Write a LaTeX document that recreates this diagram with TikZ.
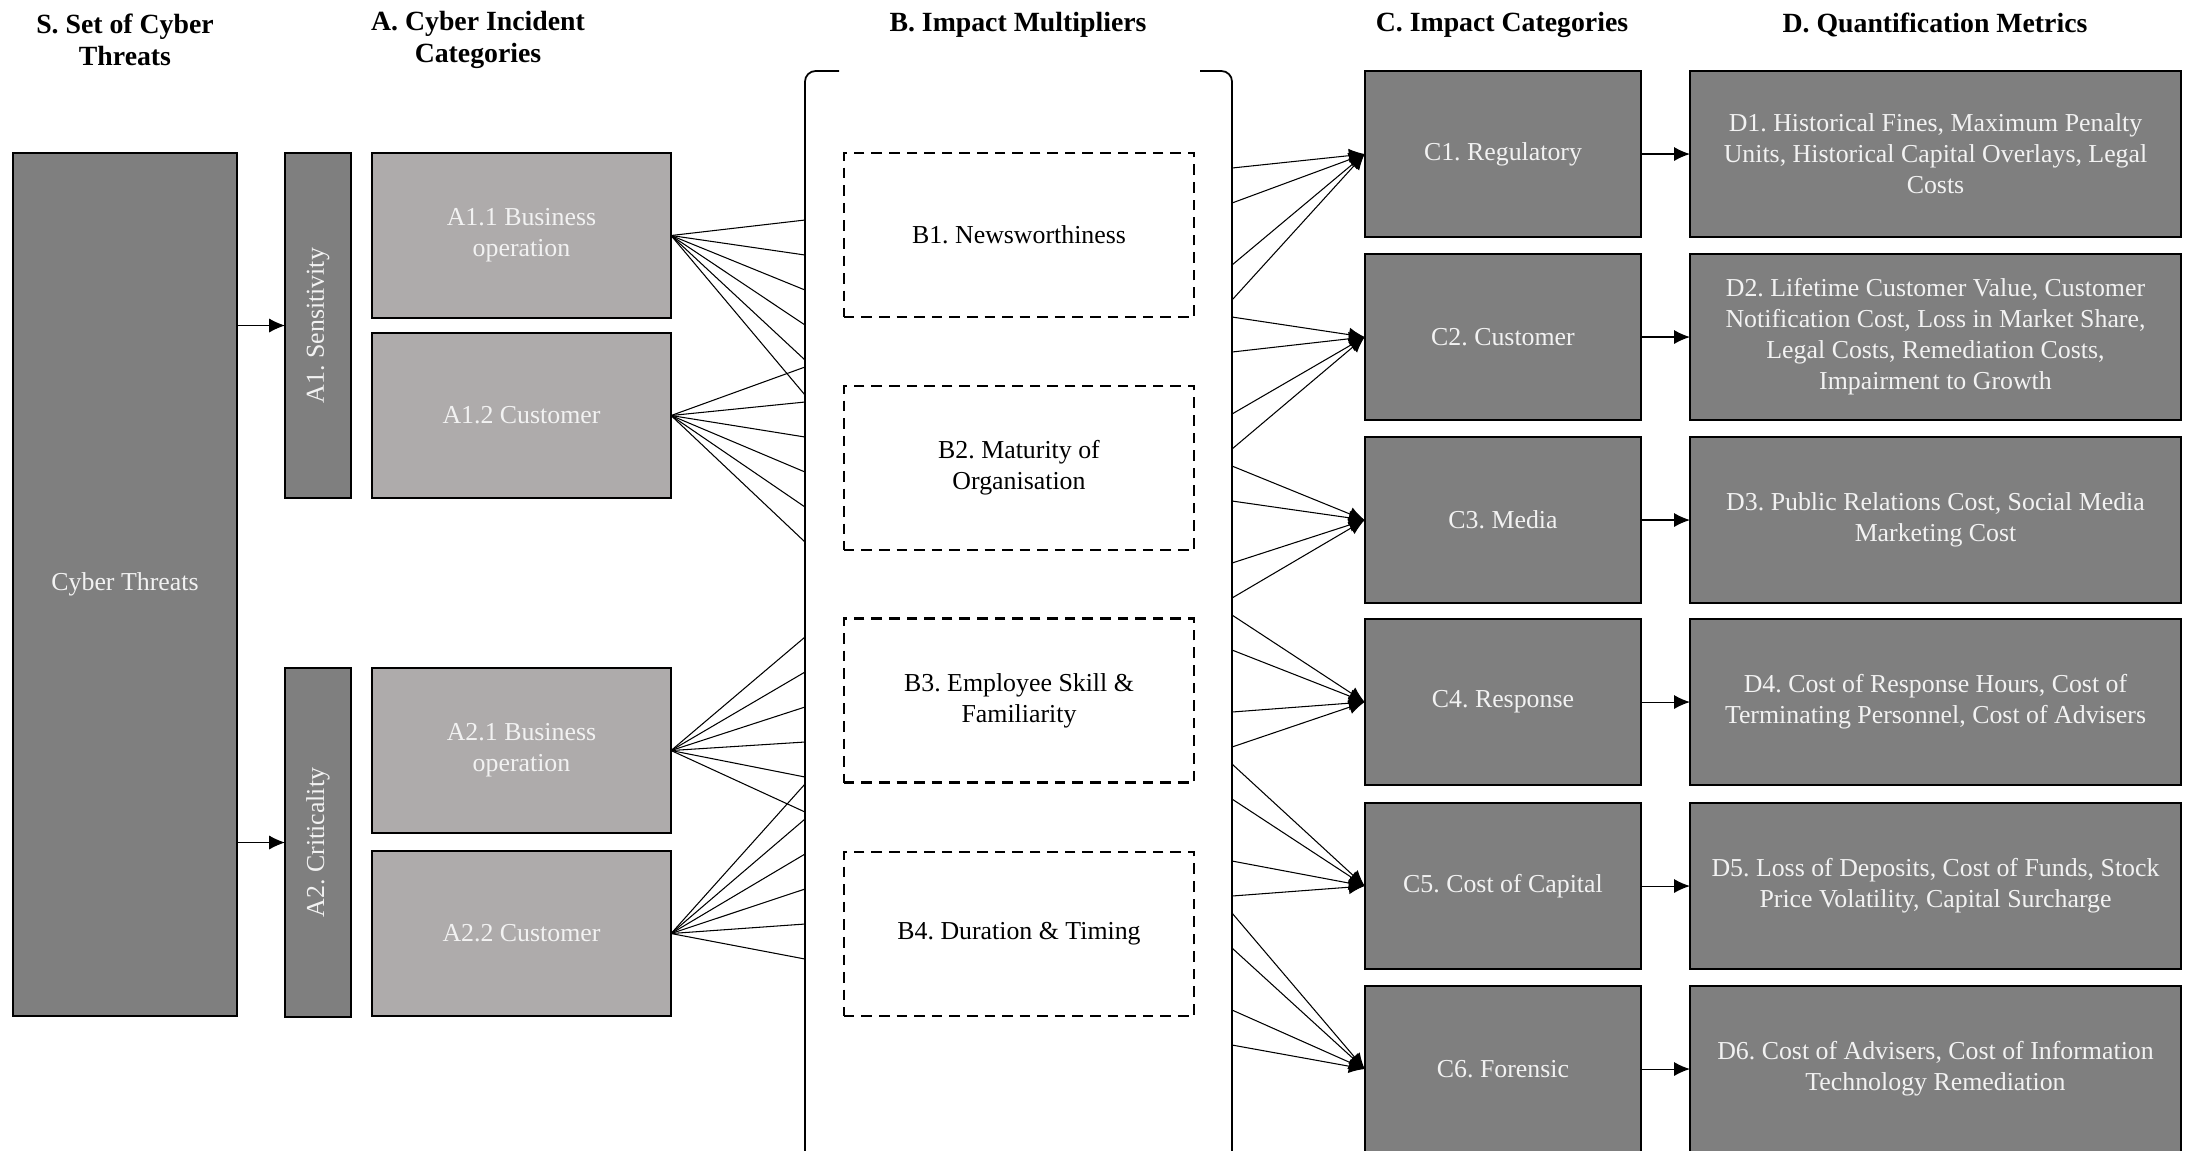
\documentclass[tikz,border=0pt]{standalone}
\usepackage{fontspec}
\setmainfont{Liberation Serif}
\usepackage{xcolor}
\usepackage{graphicx}
\usepackage{tikz}
\usetikzlibrary{arrows.meta}
\frenchspacing

\definecolor{threatgrey}{HTML}{7F7F7F}
\definecolor{incidentgrey}{HTML}{AEABAB}
\definecolor{boxtext}{HTML}{F2F2F2}

\begin{document}
\begin{tikzpicture}[x=0.01cm, y=-0.01cm,
    every node/.style={font=\fontsize{7.35}{8.8}\selectfont, inner sep=0pt, outer sep=0pt, align=center},
    colhead/.style={font=\fontsize{7.9}{9.1}\selectfont\bfseries},
    darkbox/.style={draw=black, line width=0.6pt, fill=threatgrey, text=boxtext},
    incidentbox/.style={draw=black, line width=0.6pt, fill=incidentgrey, text=boxtext, minimum width=2.99cm, minimum height=1.65cm},
    multbox/.style={draw=black, line width=0.7pt, dash pattern=on 3pt off 2pt, minimum width=3.5cm, minimum height=1.64cm},
    impactbox/.style={darkbox, minimum width=2.765cm, minimum height=1.66cm},
    metricbox/.style={darkbox, minimum width=4.91cm, minimum height=1.66cm},
    fan/.style={line width=0.3pt},
    tip/.style={-{Latex[length=4.5pt,width=4pt]}, line width=0.3pt}]
            \useasboundingbox (0,0) rectangle (2188,1150);
            \clip (0,0) rectangle (2188,1150);

            % Column headings
            \node[colhead] (hS) at (125,40) {S. Set of Cyber\\Threats};
            \node[colhead] (hA) at (478,40) {A. Cyber Incident\\Categories};
            \node[colhead] (hB) at (1018,25) {B. Impact Multipliers};
            \node[colhead] (hC) at (1502,25) {C. Impact Categories};
            \node[colhead] (hD) at (1935,25) {D. Quantification Metrics};

            % S - Set of cyber threats
            \node[darkbox, minimum width=2.245cm, minimum height=8.63cm] (S) at (125,584.5) {Cyber Threats};

            % A - Cyber incident categories
            \node[darkbox, minimum width=0.66cm, minimum height=3.45cm] (A1) at (318,325.5) {\rotatebox{90}{A1. Sensitivity}};
            \node[darkbox, minimum width=0.66cm, minimum height=3.49cm] (A2) at (318,842.5) {\rotatebox{90}{A2. Criticality}};
            \node[incidentbox] (A11) at (521.5,235.5) {A1.1 Business\\operation};
            \node[incidentbox] (A12) at (521.5,415.5) {A1.2 Customer};
            \node[incidentbox] (A21) at (521.5,750.5) {A2.1 Business\\operation};
            \node[incidentbox] (A22) at (521.5,933.5) {A2.2 Customer};

            % B - Impact multipliers (open frame)
            \draw[line width=0.5pt, rounded corners=3pt] (839,71) -- (805,71) -- (805,1200);
            \draw[line width=0.5pt, rounded corners=3pt] (1200,71) -- (1232,71) -- (1232,1200);
            \node[multbox] (B1) at (1019,235) {B1. Newsworthiness};
            \node[multbox] (B2) at (1019,468) {B2. Maturity of\\Organisation};
            \node[multbox] (B3) at (1019,700.5) {B3. Employee Skill \&\\Familiarity};
            \node[multbox] (B4) at (1019,934) {B4. Duration \& Timing};

            % C - Impact categories
            \node[impactbox] (C1) at (1503,154) {C1. Regulatory};
            \node[impactbox] (C2) at (1503,337) {C2. Customer};
            \node[impactbox] (C3) at (1503,520) {C3. Media};
            \node[impactbox] (C4) at (1503,702) {C4. Response};
            \node[impactbox] (C5) at (1503,886) {C5. Cost of Capital};
            \node[impactbox] (C6) at (1503,1069) {C6. Forensic};

            % D - Quantification metrics
            \node[metricbox] (D1) at (1935.5,154) {D1. Historical Fines, Maximum Penalty\\Units, Historical Capital Overlays, Legal\\Costs};
            \node[metricbox] (D2) at (1935.5,337) {D2. Lifetime Customer Value, Customer\\Notification Cost, Loss in Market Share,\\Legal Costs, Remediation Costs,\\Impairment to Growth};
            \node[metricbox] (D3) at (1935.5,520) {D3. Public Relations Cost, Social Media\\Marketing Cost};
            \node[metricbox] (D4) at (1935.5,702) {D4. Cost of Response Hours, Cost of\\Terminating Personnel, Cost of Advisers};
            \node[metricbox] (D5) at (1935.5,886) {D5. Loss of Deposits, Cost of Funds, Stock\\Price Volatility, Capital Surcharge};
            \node[metricbox] (D6) at (1935.5,1069) {D6. Cost of Advisers, Cost of Information\\Technology Remediation};

            % Points on the frame of B
            \foreach \a/\y in {A11/220, A12/367, A21/637, A22/784}
                \foreach \k in {0,...,5}
                    \coordinate (\a-in\k) at (805,\y+35*\k);
            \foreach \n in {1,...,6}
                \foreach \d [count=\k] in {0,35,97,132}
                    \coordinate (C\n-out\k) at (1232,{168+149*(\n-1)+\d});

            % Arrows
            \draw[tip] (S.east |- A1.west) -- (A1.west);
            \draw[tip] (S.east |- A2.west) -- (A2.west);
            \foreach \a in {A11,A12,A21,A22}
                \foreach \k in {0,...,5}
                    \draw[fan] (\a.east) -- (\a-in\k);
            \foreach \n in {1,...,6}
                \foreach \k in {1,...,4}
                    \draw[tip] (C\n-out\k) -- (C\n.west);
            \foreach \n in {1,...,6}
                \draw[tip] (C\n.east) -- (D\n.west);
        \end{tikzpicture}
\end{document}
